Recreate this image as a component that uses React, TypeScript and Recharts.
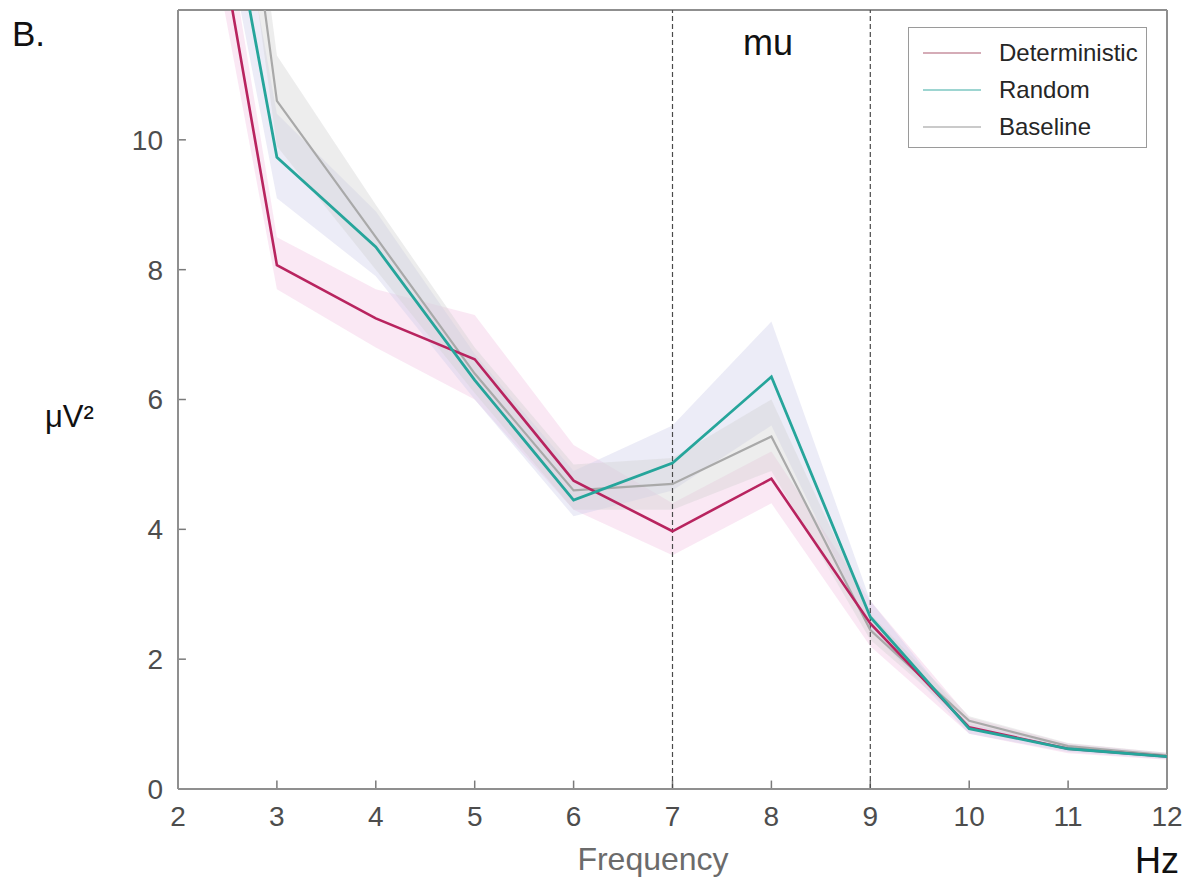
import {
  ComposedChart,
  Line,
  Area,
  XAxis,
  YAxis,
  ReferenceLine,
} from "recharts";

// frequency bins (Hz)
const freqs = [2, 3, 4, 5, 6, 7, 8, 9, 10, 11, 12];

// mean power per condition
const deterministic = [16.8, 8.07, 7.25, 6.62, 4.75, 3.97, 4.78, 2.55, 0.95, 0.62, 0.5];
const random = [18.0, 9.73, 8.35, 6.3, 4.45, 5.02, 6.35, 2.65, 0.93, 0.62, 0.5];
const baseline = [22.0, 10.6, 8.5, 6.4, 4.6, 4.7, 5.43, 2.45, 1.05, 0.66, 0.52];

// shaded error bands (low / high)
const detLow = [15.8, 7.7, 6.8, 6.0, 4.3, 3.6, 4.4, 2.2, 0.85, 0.55, 0.45];
const detHigh = [17.8, 8.5, 7.7, 7.3, 5.3, 4.4, 5.2, 2.9, 1.1, 0.7, 0.56];
const randLow = [17.0, 9.1, 7.9, 6.0, 4.2, 4.6, 5.6, 2.45, 0.85, 0.57, 0.46];
const randHigh = [19.0, 10.4, 8.9, 6.7, 4.9, 5.6, 7.2, 2.9, 1.0, 0.68, 0.55];
const baseLow = [21.0, 9.9, 8.0, 6.1, 4.3, 4.3, 4.9, 2.3, 0.98, 0.62, 0.49];
const baseHigh = [23.0, 11.3, 9.0, 6.8, 5.0, 5.1, 6.0, 2.7, 1.12, 0.71, 0.56];

const xTicks = [2, 3, 4, 5, 6, 7, 8, 9, 10, 11, 12];
const yTicks = [0, 2, 4, 6, 8, 10];

const series = [
  { key: "det", name: "Deterministic", color: "#b8245f", legend: "#c7909f" },
  { key: "rand", name: "Random", color: "#26a59b", legend: "#7cc7c2" },
  { key: "base", name: "Baseline", color: "#a9a9a9", legend: "#b9b9b9" },
];

const data = freqs.map((f, i) => ({
  f,
  det: deterministic[i],
  rand: random[i],
  base: baseline[i],
  detBand: [detLow[i], detHigh[i]],
  randBand: [randLow[i], randHigh[i]],
  baseBand: [baseLow[i], baseHigh[i]],
}));

const font = "Liberation Sans, Arial, sans-serif";
const frame = "#8f8f8f";
const tickColor = "#7a7a7a";

function XTick(props: any) {
  const { x, y, payload } = props;
  return (
    <text x={x} y={y + 17} dy="0.71em" textAnchor="middle" fontSize={28} fontFamily={font} fill="#4d4d4d">
      {payload.value}
    </text>
  );
}

function YTick(props: any) {
  const { x, y, payload } = props;
  return (
    <text x={x - 15} y={y} dy="0.355em" textAnchor="end" fontSize={28} fontFamily={font} fill="#4d4d4d">
      {payload.value}
    </text>
  );
}

function LegendBox() {
  return (
    <div
      style={{
        position: "absolute",
        left: 908,
        top: 27,
        width: 237,
        height: 119,
        border: "1px solid #9a9a9a",
        background: "#fff",
        fontFamily: font,
        fontSize: 24,
        color: "#262626",
      }}
    >
      {series.map((s, i) => (
        <div
          key={s.key}
          style={{
            position: "absolute",
            left: 14,
            top: 10 + i * 37,
            display: "flex",
            alignItems: "center",
            height: 30,
            whiteSpace: "nowrap",
          }}
        >
          <svg width={60} height={4} style={{ marginRight: 16 }}>
            <line x1={0} y1={2} x2={58} y2={2} stroke={s.legend} strokeWidth={1.5} />
          </svg>
          <span>{s.name}</span>
        </div>
      ))}
    </div>
  );
}

export default function App() {
  return (
    <div style={{ position: "absolute", left: 0, top: 0, width: 1188, height: 883, background: "#fff" }}>
      <ComposedChart
        width={1188}
        height={883}
        data={data}
        margin={{ top: 10, right: 21, bottom: 64, left: 0 }}
      >
        <XAxis
          dataKey="f"
          type="number"
          domain={[2, 12]}
          ticks={xTicks}
          allowDataOverflow
          interval={0}
          tickSize={0}
          tickMargin={0}
          tickLine={false}
          height={30}
          stroke={frame}
          strokeWidth={2}
          tick={(p: any) => <XTick {...p} />}
        />
        <YAxis
          type="number"
          domain={[0, 12]}
          ticks={yTicks}
          allowDataOverflow
          width={178}
          interval={0}
          tickSize={0}
          tickMargin={0}
          tickLine={false}
          stroke={frame}
          strokeWidth={2}
          tick={(p: any) => <YTick {...p} />}
        />
        <ReferenceLine y={12} stroke={frame} strokeWidth={2} />
        <ReferenceLine x={12} stroke={frame} strokeWidth={2} />

        {/* inward tick marks */}
        {xTicks.slice(1, -1).map((t) => (
          <ReferenceLine
            key={"xt" + t}
            segment={[{ x: t, y: 0 }, { x: t, y: 0.13 }]}
            stroke={tickColor}
            strokeWidth={1.5}
          />
        ))}
        {yTicks.slice(1).map((t) => (
          <ReferenceLine
            key={"yt" + t}
            segment={[{ x: 2, y: t }, { x: 2.08, y: t }]}
            stroke={tickColor}
            strokeWidth={1.5}
          />
        ))}

        <Area
          dataKey="detBand"
          type="linear"
          stroke="none"
          fill="#f2c6e4"
          fillOpacity={0.4}
          isAnimationActive={false}
        />
        <Area
          dataKey="randBand"
          type="linear"
          stroke="none"
          fill="#cfd0ec"
          fillOpacity={0.4}
          isAnimationActive={false}
        />
        <Area
          dataKey="baseBand"
          type="linear"
          stroke="none"
          fill="#d2d2d2"
          fillOpacity={0.4}
          isAnimationActive={false}
        />

        <ReferenceLine x={7} stroke="#4a4a4a" strokeWidth={1.2} strokeDasharray="5 3" />
        <ReferenceLine x={9} stroke="#4a4a4a" strokeWidth={1.2} strokeDasharray="5 3" />

        <Line
          dataKey="base"
          type="linear"
          stroke={series[2].color}
          strokeWidth={2.2}
          dot={false}
          isAnimationActive={false}
        />
        <Line
          dataKey="det"
          type="linear"
          stroke={series[0].color}
          strokeWidth={2.6}
          dot={false}
          isAnimationActive={false}
        />
        <Line
          dataKey="rand"
          type="linear"
          stroke={series[1].color}
          strokeWidth={2.8}
          dot={false}
          isAnimationActive={false}
        />

        <text x={768} y={55} textAnchor="middle" fontFamily={font} fontSize={36} fill="#111">
          mu
        </text>
        <text x={12} y={46} fontFamily={font} fontSize={35} fill="#111">
          B.
        </text>
        <text x={45} y={427} fontFamily={font} fontSize={31} fill="#111">
          μV²
        </text>
        <text x={653} y={870} textAnchor="middle" fontFamily={font} fontSize={32} fill="#6b6b6b">
          Frequency
        </text>
        <text x={1135} y={873} fontFamily={font} fontSize={36} fill="#111">
          Hz
        </text>
      </ComposedChart>
      <LegendBox />
    </div>
  );
}
